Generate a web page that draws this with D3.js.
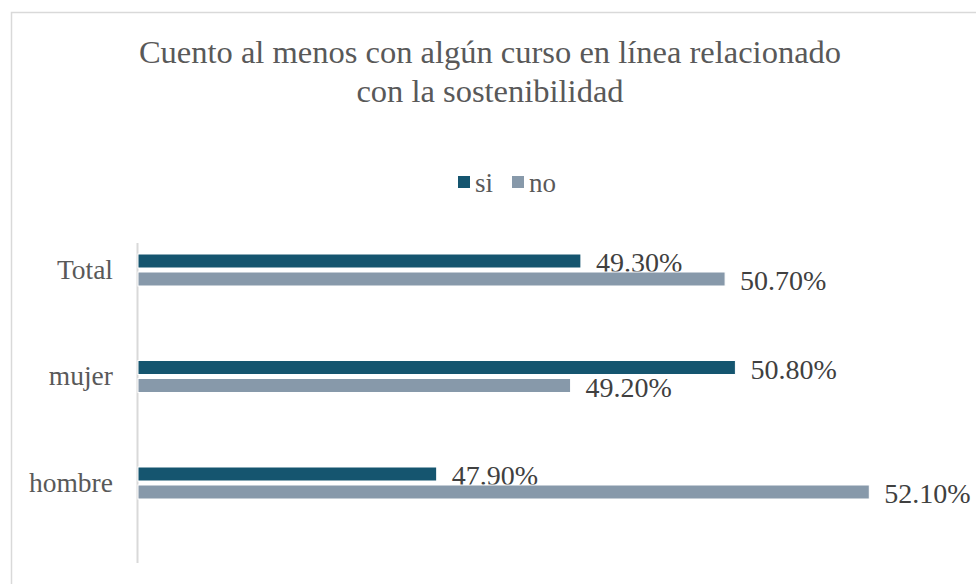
<!DOCTYPE html>
<html>
<head>
<meta charset="utf-8">
<script src="https://cdn.jsdelivr.net/npm/d3@7"></script>
<style>
  body { margin: 0; background: #fff; }
</style>
</head>
<body>
<div id="wrapper"></div>
<script>
// data
var categories = ["Total", "mujer", "hombre"];
var seriesNames = ["si", "no"];
var siValues = [0.493, 0.508, 0.479];
var noValues = [0.507, 0.492, 0.521];
var titleLines = ["Cuento al menos con algún curso en línea relacionado", "con la sostenibilidad"];

var colors = {si: "#15556f", no: "#8799aa"};
var serif = "'Liberation Serif'";

var width = 976, height = 584;

var svg = d3.select("#wrapper").append("svg")
    .attr("width", width)
    .attr("height", height);

// chart frame
svg.append("rect")
    .attr("x", 11.5).attr("y", 12.5)
    .attr("width", 1000).attr("height", 700)
    .attr("fill", "none")
    .attr("stroke", "#d9d9d9")
    .attr("stroke-width", 1.5);

// title
svg.append("g").selectAll("text")
    .data(titleLines)
    .enter().append("text")
    .attr("x", 490)
    .attr("y", function(d, i) { return 63 + i * 39; })
    .attr("text-anchor", "middle")
    .style("font-family", serif)
    .attr("font-size", 32.5)
    .attr("fill", "#595959")
    .text(function(d) { return d; });

// scales
var x = d3.scaleLinear().domain([0.45, 0.53]).range([138, 962]);
var y = d3.scaleBand().domain(categories).range([216.75, 536.25]);
var sub = d3.scaleBand().domain(seriesNames).range([-16, 16]).paddingInner(4 / 18);

// legend
var legend = svg.append("g");
var legendX = [458, 512];
seriesNames.forEach(function(s, i) {
    legend.append("rect")
        .attr("x", legendX[i]).attr("y", 176)
        .attr("width", 12).attr("height", 12)
        .attr("fill", colors[s]);
    legend.append("text")
        .attr("x", legendX[i] + 17).attr("y", 192)
        .style("font-family", serif)
        .attr("font-size", 27)
        .attr("fill", "#595959")
        .text(s);
});

// category axis line
svg.append("line")
    .attr("x1", 137.5).attr("x2", 137.5)
    .attr("y1", 243).attr("y2", 563)
    .attr("stroke", "#d9d9d9")
    .attr("stroke-width", 2);

// category labels
svg.append("g").selectAll("text")
    .data(categories)
    .enter().append("text")
    .attr("x", 113)
    .attr("y", function(d) { return y(d) + y.bandwidth() / 2 + 8.5; })
    .attr("text-anchor", "end")
    .style("font-family", serif)
    .attr("font-size", 27.5)
    .attr("fill", "#595959")
    .text(function(d) { return d; });

// bars and labels, series by series (the "no" bars sit over the "si" labels)
var seriesData = {si: siValues, no: noValues};
seriesNames.forEach(function(s) {
    var rows = categories.map(function(c, i) { return {cat: c, value: seriesData[s][i]}; });
    var g = svg.append("g");
    g.selectAll("rect")
        .data(rows)
        .enter().append("rect")
        .attr("x", x(0.45))
        .attr("y", function(d) { return y(d.cat) + y.bandwidth() / 2 + sub(s); })
        .attr("width", function(d) { return x(d.value) - x(0.45); })
        .attr("height", sub.bandwidth())
        .attr("fill", colors[s])
        .attr("stroke", "#fff")
        .attr("stroke-width", 1);
    g.selectAll("text")
        .data(rows)
        .enter().append("text")
        .attr("x", function(d) { return x(d.value) + 15; })
        .attr("y", function(d) { return y(d.cat) + y.bandwidth() / 2 + sub(s) + sub.bandwidth() / 2 + 11; })
        .style("font-family", serif)
        .attr("font-size", 28)
        .attr("fill", "#404040")
        .text(function(d) { return (d.value * 100).toFixed(2) + "%"; });
});
</script>
</body>
</html>
